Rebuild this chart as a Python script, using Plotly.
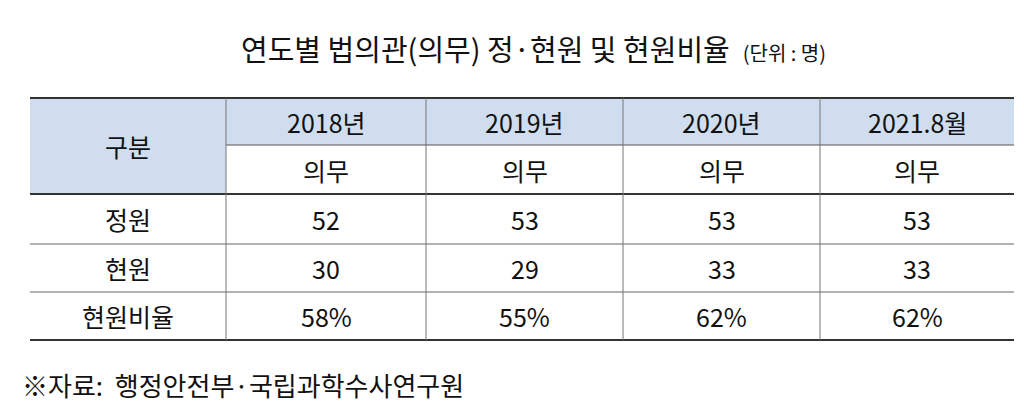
import plotly.graph_objects as go

title_main = "연도별 법의관(의무) 정·현원 및 현원비율"
title_unit = "(단위 : 명)"
corner = "구분"
years = ["2018년", "2019년", "2020년", "2021.8월"]
sub = ["의무", "의무", "의무", "의무"]
row_labels = ["정원", "현원", "현원비율"]
jeongwon = ["52", "53", "53", "53"]
hyeonwon = ["30", "29", "33", "33"]
ratio = ["58%", "55%", "62%", "62%"]
source = "※자료:  행정안전부·국립과학수사연구원"

cols = [22, 218, 418, 615, 812, 1006]
rows = [90, 137, 186, 236, 284, 332]
blue = "#cfddef"
font = "Noto Sans CJK KR"

fig = go.Figure()
shapes = []
ann = []
shapes.append(dict(type="rect", x0=cols[0], x1=cols[1], y0=rows[0], y1=rows[2], fillcolor=blue, line_width=0, layer="below"))
shapes.append(dict(type="rect", x0=cols[1], x1=cols[5], y0=rows[0], y1=rows[1], fillcolor=blue, line_width=0, layer="below"))
for i, y in enumerate(rows):
    if i == 1:
        shapes.append(dict(type="line", x0=cols[1], x1=cols[5], y0=y, y1=y, line=dict(color="#555", width=1)))
    else:
        w = 2 if i in (0, 2, 5) else 1
        shapes.append(dict(type="line", x0=cols[0], x1=cols[5], y0=y, y1=y, line=dict(color="#333" if w == 2 else "#666", width=w)))
for x in cols[1:5]:
    shapes.append(dict(type="line", x0=x, x1=x, y0=rows[0], y1=rows[5], line=dict(color="#777", width=1)))

def txt(x, y, t, size=25):
    ann.append(dict(x=x, y=y, text=t, showarrow=False, font=dict(size=size, color="#111", family=font), xanchor="center", yanchor="middle"))

txt((cols[0] + cols[1]) / 2, (rows[0] + rows[2]) / 2, corner)
for j in range(4):
    cx = (cols[j + 1] + cols[j + 2]) / 2
    txt(cx, (rows[0] + rows[1]) / 2, years[j])
    txt(cx, (rows[1] + rows[2]) / 2, sub[j])
data = [jeongwon, hyeonwon, ratio]
for i, lab in enumerate(row_labels):
    cy = (rows[i + 2] + rows[i + 3]) / 2
    txt((cols[0] + cols[1]) / 2, cy, lab)
    for j in range(4):
        txt((cols[j + 1] + cols[j + 2]) / 2, cy, data[i][j])

ann.append(dict(x=525, y=40, text=title_main + "  <span style='font-size:20px'>" + title_unit + "</span>", showarrow=False,
                font=dict(size=29, color="#111", family=font), xanchor="center", yanchor="middle"))
ann.append(dict(x=12, y=376, text=source, showarrow=False, font=dict(size=26, color="#111", family=font), xanchor="left", yanchor="middle"))

fig.add_trace(go.Scatter(x=[0], y=[0], mode="markers", marker=dict(opacity=0), hoverinfo="skip", showlegend=False))
fig.update_layout(width=1024, height=417, margin=dict(l=0, r=0, t=0, b=0), paper_bgcolor="white", plot_bgcolor="white",
                  shapes=shapes, annotations=ann,
                  xaxis=dict(range=[0, 1024], visible=False, fixedrange=True),
                  yaxis=dict(range=[417, 0], visible=False, fixedrange=True))
fig.write_html("out.html")
